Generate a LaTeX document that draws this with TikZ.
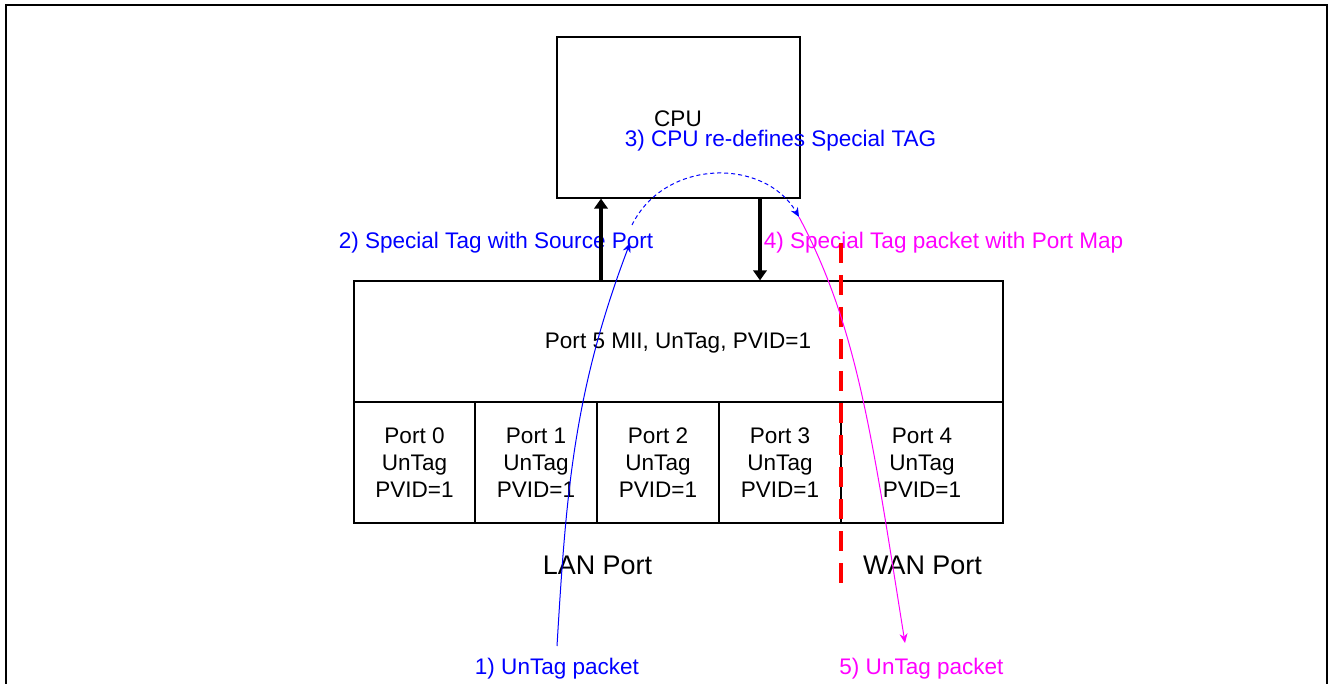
\documentclass[tikz,border=0pt]{standalone}
\usepackage{fontspec}
\setmainfont{Liberation Sans}
\usetikzlibrary{arrows.meta,calc}
\definecolor{pblue}{RGB}{0,0,255}
\definecolor{pmag}{RGB}{255,0,255}
\definecolor{pred}{RGB}{255,0,0}
\tikzset{
  txt/.style={inner sep=0pt, text height=0.716em, text depth=0pt, yshift=-3pt, font=\fontsize{16.9pt}{20.25pt}\selectfont},
  bigtxt/.style={inner sep=0pt, text height=0.716em, text depth=0pt, yshift=-4.5pt, font=\fontsize{20.2pt}{24pt}\selectfont},
  celltxt/.style={inner sep=0pt, align=center, font=\fontsize{16.9pt}{20.25pt}\selectfont},
  boxline/.style={draw=black, line width=0.9pt},
  fatarrow/.style={line width=2.3pt, -{Triangle[length=7.5pt,width=10pt]}},
  flow/.style={line width=0.75pt, -{Stealth[length=7pt,width=6pt]}},
}
\begin{document}
\begin{tikzpicture}[x=0.75pt,y=-0.75pt]
\useasboundingbox (0,0) rectangle (1329,684);
% outer frame
\draw[line width=1.5pt] (6,690) -- (6,5) -- (1327,5) -- (1327,690);

% CPU box
\node[boxline, minimum width=182.25pt, minimum height=120.75pt, inner sep=0pt] (cpu) at (678.5,117.5) {};
\node[txt] (cputxt) at (678,118) {CPU};

% switch box
\node[boxline, minimum width=486.75pt, minimum height=90.75pt, inner sep=0pt] (port5) at (678.5,341.5) {};
\node[txt] (p5txt) at (678,340) {Port 5 MII, UnTag, PVID=1};
\node[boxline, minimum width=90.75pt, minimum height=90.75pt, inner sep=0pt] (p0) at (414.5,462.5) {};
\node[boxline, minimum width=91.5pt, minimum height=90.75pt, inner sep=0pt] (p1) at (536,462.5) {};
\node[boxline, minimum width=91.5pt, minimum height=90.75pt, inner sep=0pt] (p2) at (658,462.5) {};
\node[boxline, minimum width=91.5pt, minimum height=90.75pt, inner sep=0pt] (p3) at (780,462.5) {};
\node[boxline, minimum width=121.5pt, minimum height=90.75pt, inner sep=0pt] (p4) at (922,462.5) {};
\node[celltxt] (p0t) at (p0) {Port 0\\UnTag\\PVID=1};
\node[celltxt] (p1t) at (p1) {Port 1\\UnTag\\PVID=1};
\node[celltxt] (p2t) at (p2) {Port 2\\UnTag\\PVID=1};
\node[celltxt] (p3t) at (p3) {Port 3\\UnTag\\PVID=1};
\node[celltxt] (p4t) at (p4) {Port 4\\UnTag\\PVID=1};

% labels
\node[bigtxt] (lan) at (597.5,564) {LAN Port};
\node[bigtxt] (wan) at (922.5,564) {WAN Port};
\node[txt, text=pblue] (l1) at (557,666) {1) UnTag packet};
\node[txt, text=pblue] (l2) at (496,240) {2) Special Tag with Source Port};
\node[txt, text=pblue] (l3) at (780.5,138) {3) CPU re-defines Special TAG};
\node[txt, text=pmag] (l4) at (943.5,240) {4) Special Tag packet with Port Map};
\node[txt, text=pmag] (l5) at (921.5,666) {5) UnTag packet};

% black arrows between switch and CPU
\coordinate (upx) at (601,0);
\coordinate (dnx) at (760,0);
\draw[fatarrow] (upx |- port5.north) -- (upx |- cpu.south);
\draw[fatarrow] (dnx |- cpu.south) -- (dnx |- port5.north);

% red dashed separator
\coordinate (rt) at (841,243);
\coordinate (rb) at (841,583);
\draw[pred, line width=2.4pt, dash pattern=on 15pt off 9pt] (rt) -- (rb);

% packet flow
\coordinate (b0) at (557,646);
\coordinate (b1) at (630,243);
\coordinate (d0) at (632,225);
\coordinate (d1) at (799,217);
\coordinate (m1) at (905,643);
\draw[pblue, flow] (b0) .. controls (566,496) and (573,393) .. (b1);
\draw[pblue, flow, dash pattern=on 3pt off 2.25pt] (d0) .. controls (665,158) and (765,158) .. (d1);
\draw[pmag, flow] (d1) .. controls (858,327) and (873,443) .. (m1);
\end{tikzpicture}
\end{document}
